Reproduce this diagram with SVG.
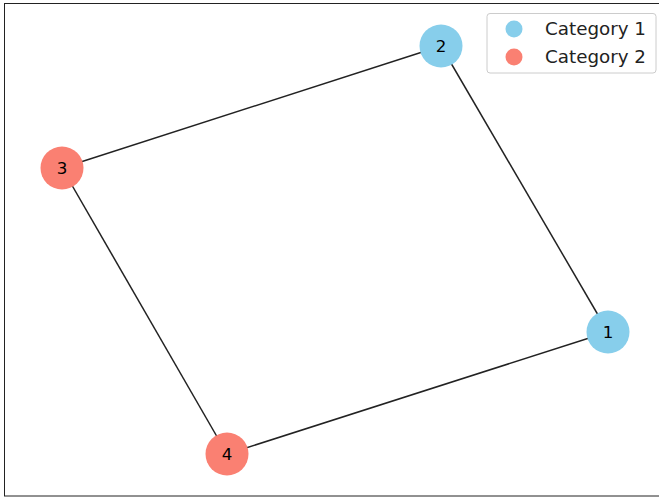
<svg xmlns="http://www.w3.org/2000/svg" width="659" height="497" viewBox="0 0 659 497">
<style>
.edge{stroke:#222;stroke-width:1.5;fill:none}
.c1{fill:#87CEEB}
.c2{fill:#FA8072}
.lbl{font-family:"DejaVu Sans",sans-serif;font-size:16.7px;fill:#000;text-anchor:middle;dominant-baseline:central}
.leg{font-family:"DejaVu Sans",sans-serif;font-size:18.3px;fill:#222}
</style>
<rect x="0" y="0" width="659" height="497" fill="#fff"/>
<rect x="4.5" y="3.5" width="700" height="492.5" fill="none" stroke="#222" stroke-width="1"/>
<g id="edges">
<line class="edge" x1="608" y1="332" x2="441" y2="46"/>
<line class="edge" x1="441" y1="46" x2="62" y2="168"/>
<line class="edge" x1="62" y1="168" x2="227" y2="454"/>
<line class="edge" x1="227" y1="454" x2="608" y2="332"/>
</g>
<g id="node1"><circle class="c1" cx="608" cy="332" r="21.5"/><text class="lbl" x="608" y="332">1</text></g>
<g id="node2"><circle class="c1" cx="441" cy="46" r="21.5"/><text class="lbl" x="441" y="46">2</text></g>
<g id="node3"><circle class="c2" cx="62" cy="168" r="21.5"/><text class="lbl" x="62" y="168">3</text></g>
<g id="node4"><circle class="c2" cx="227" cy="454" r="21.5"/><text class="lbl" x="227" y="454">4</text></g>
<g id="legend">
<rect x="487" y="13.5" width="169" height="59.5" rx="3" fill="#fff" fill-opacity="0.8" stroke="#ccc" stroke-width="1"/>
<circle class="c1" cx="514" cy="29" r="8.5"/>
<circle class="c2" cx="514" cy="57" r="8.5"/>
<text class="leg" x="545" y="35">Category 1</text>
<text class="leg" x="545" y="63">Category 2</text>
</g>
</svg>
